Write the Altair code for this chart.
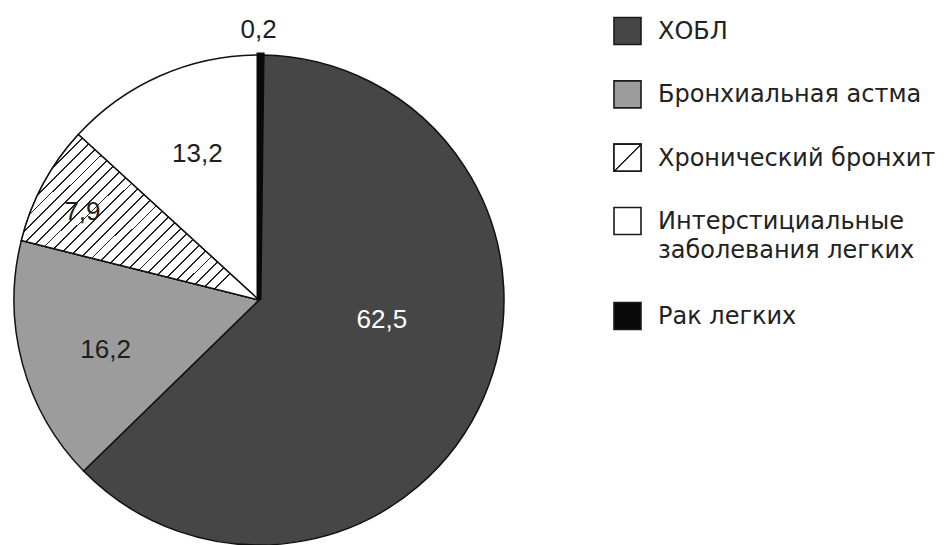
import altair as alt
import pandas as pd

# ---- data ----
categories = ["ХОБЛ", "Бронхиальная астма", "Хронический бронхит",
              "Интерстициальные заболевания легких", "Рак легких"]
legend_labels = ["ХОБЛ", "Бронхиальная астма", "Хронический бронхит",
                 "Интерстициальные\nзаболевания легких", "Рак легких"]
values = [62.5, 16.2, 7.9, 13.2, 0.2]
value_labels = ["62,5", "16,2", "7,9", "13,2", "0,2"]
pie_order = [2, 3, 4, 5, 1]          # clockwise from 12 o'clock
fills = ["#464646", "#9c9c9c", "#ffffff", "#ffffff", "#0a0a0a"]

HATCHED = "Хронический бронхит"

extra_lines = [lab.count("\n") for lab in legend_labels]
slots = []
acc = 0.0
for i, e in enumerate(extra_lines):
    slots.append(i + acc)
    acc += 0.5 * e

df = pd.DataFrame({
    "cat": categories,
    "legend": legend_labels,
    "value": values,
    "label": value_labels,
    "order": pie_order,
    "slot": slots,
})


def stripes(n, half_width, x2=1.0, y2=1.0):
    stops = [{"offset": 0, "color": "white"}]
    for i in range(n):
        c = (i + 0.5) / n
        a, b = max(c - half_width, 0.0), min(c + half_width, 1.0)
        stops += [{"offset": a, "color": "white"}, {"offset": a, "color": "#222222"},
                  {"offset": b, "color": "#222222"}, {"offset": b, "color": "white"}]
    stops.append({"offset": 1, "color": "white"})
    return {"gradient": "linear", "x1": 0, "y1": 0, "x2": x2, "y2": y2, "stops": stops}


pie_hatch = stripes(30, 0.0026, 1.0, 0.7)
legend_hatch = stripes(1, 0.02, 1.0, 1.0)

CX, CY, R = 251, 292, 245
tscale = alt.Scale(domain=[0, 100])
fill_scale = alt.Scale(domain=categories, range=fills)

base = alt.Chart(df).transform_window(
    cum="sum(value)", sort=[alt.SortField("order")], frame=[None, 0]
).transform_calculate(
    start="datum.cum - datum.value", mid="datum.cum - datum.value / 2"
)

theta_enc = dict(theta=alt.Theta("start:Q", scale=tscale, stack=None),
                 theta2=alt.Theta2("cum:Q"))

arcs = base.mark_arc(outerRadius=R, stroke="#111111", strokeWidth=1.5, x=CX, y=CY).encode(
    fill=alt.Fill("cat:N", scale=fill_scale, legend=None), **theta_enc
)
hatch = base.transform_filter(alt.datum.cat == HATCHED).mark_arc(
    outerRadius=R, stroke="#111111", strokeWidth=1.5, x=CX, y=CY, fill=pie_hatch
).encode(**theta_enc)
sliver = base.transform_filter(alt.datum.cat == "Рак легких").mark_arc(
    outerRadius=R, stroke="#0a0a0a", strokeWidth=5, x=CX, y=CY, fill="#0a0a0a"
).encode(**theta_enc)

label_style = {
    "ХОБЛ": (125, 8, -29, "#ffffff"),
    "Бронхиальная астма": (161, 2, 8, "#1e1e1e"),
    "Хронический бронхит": (197, -3, 5, "#1e1e1e"),
    "Интерстициальные заболевания легких": (158, 2, -1, "#1e1e1e"),
    "Рак легких": (270, -2, 0, "#1e1e1e"),
}
label_layers = []
for cat, (r, dx, dy, col) in label_style.items():
    label_layers.append(
        base.transform_filter(alt.datum.cat == cat).mark_text(
            radius=r, dx=dx, dy=dy, x=CX, y=CY, fontSize=26, font="Liberation Sans",
            color=col, align="center", baseline="middle"
        ).encode(theta=alt.Theta("mid:Q", scale=tscale, stack=None), text="label:N")
    )

pie = alt.layer(arcs, hatch, sliver, *label_layers).properties(width=502, height=529)

yscale = alt.Scale(domain=[0, 4.5], range=[23, 308])
leg_base = alt.Chart(df)
leg_sq = leg_base.mark_square(size=729, stroke="#1a1a1a", strokeWidth=1.6, opacity=1).encode(
    x=alt.value(117.5),
    y=alt.Y("slot:Q", scale=yscale, axis=None),
    fill=alt.Fill("cat:N", scale=fill_scale, legend=None),
)
leg_hatch = leg_base.transform_filter(alt.datum.cat == HATCHED).mark_square(
    size=729, stroke="#1a1a1a", strokeWidth=1.6, opacity=1, fill=legend_hatch
).encode(x=alt.value(117.5), y=alt.Y("slot:Q", scale=yscale, axis=None))
leg_text = leg_base.mark_text(
    align="left", baseline="alphabetic", dy=8, fontSize=24, font="DejaVu Sans",
    color="#222222", lineBreak="\n", lineHeight=29
).encode(
    x=alt.value(148),
    y=alt.Y("slot:Q", scale=yscale, axis=None),
    text="legend:N",
)
legend = alt.layer(leg_sq, leg_hatch, leg_text).properties(width=420, height=529)

chart = alt.hconcat(pie, legend, spacing=0).properties(padding=0).configure_view(stroke=None)

chart.save("out.html", embed_options={"renderer": "svg", "actions": False})
